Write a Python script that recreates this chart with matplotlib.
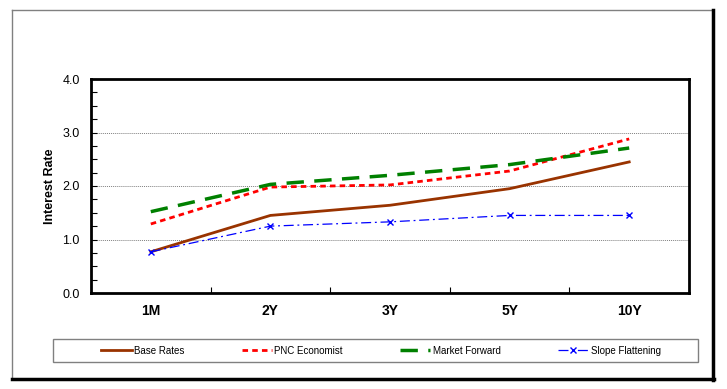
import numpy as np
import matplotlib.pyplot as plt
from matplotlib.lines import Line2D
from matplotlib.patches import Rectangle
from matplotlib.ticker import FixedLocator, MultipleLocator

plt.rcParams['font.family'] = ['Liberation Sans', 'DejaVu Sans']

# data
terms = ['1M', '2Y', '3Y', '5Y', '10Y']
base_rates = [0.77, 1.45, 1.64, 1.95, 2.45]
pnc_economist = [1.29, 1.98, 2.02, 2.28, 2.88]
market_forward = [1.52, 2.03, 2.20, 2.40, 2.71]
slope_flattening = [0.77, 1.25, 1.33, 1.45, 1.45]

fig = plt.figure(figsize=(7.27, 3.89), dpi=100)
ax = fig.add_axes([91/727, 1-293/389, 598/727, 214/389])
x = np.arange(len(terms))

ax.plot(x, base_rates, color='#993300', lw=2, label='Base Rates')
ax.plot(x, pnc_economist, color='#FF0000', lw=2, ls=(0, (2, 1.5)), label='PNC Economist')
ax.plot(x, market_forward, color='#008000', lw=2.5, ls=(0, (5, 3)), label='Market Forward')
ax.plot(x, slope_flattening, color='#0000FF', lw=0.9, ls=(0, (8, 3, 1.5, 3)),
        marker='x', ms=5, mew=1, label='Slope Flattening')

ax.set_xlim(-0.5, len(terms) - 0.5)
ax.set_ylim(0, 4)
ax.set_xticks(x)
ax.set_xticklabels(terms, fontweight='bold', fontsize=10)
ax.xaxis.set_minor_locator(FixedLocator(x[:-1] + 0.5))
ax.tick_params(axis='x', which='major', length=0, pad=8)
ax.tick_params(axis='x', which='minor', direction='in', length=4, width=0.8)

ax.yaxis.set_major_locator(MultipleLocator(1))
ax.yaxis.set_minor_locator(MultipleLocator(0.25))
ax.set_yticklabels([f'{v:.1f}' for v in ax.get_yticks()])
ax.tick_params(axis='y', which='both', direction='in', length=4, width=0.8, labelsize=9, pad=8)
ax.set_ylabel('Interest Rate', fontweight='bold', fontsize=9, labelpad=5)

for v in [1, 2, 3]:
    ax.axhline(v, color='#808080', lw=0.7, ls=(0, (1, 1)), zorder=0)
for s in ax.spines.values():
    s.set_linewidth(2)

# legend box drawn separately, entries spaced like the original
fig.add_artist(Rectangle((53/727, 1-362/389), 645/727, 23/389, transform=fig.transFigure,
                         fill=False, edgecolor='#808080', lw=1))
fig.legend(loc='center', bbox_to_anchor=(381/727, 1-350.5/389), ncol=4, fontsize=7,
           frameon=False, handlelength=3.1, handletextpad=0.25, columnspacing=5.9,
           borderaxespad=0, borderpad=0)

# outer frame with shadow on right and bottom
fig.add_artist(Line2D([12/727, 12/727], [1-379/389, 1-10/389], color='#808080', lw=1))
fig.add_artist(Line2D([12/727, 713/727], [1-10/389, 1-10/389], color='#808080', lw=1))
fig.add_artist(Line2D([713/727, 713/727], [1-380/389, 1-10/389], color='black', lw=2.5))
fig.add_artist(Line2D([12/727, 714/727], [1-379/389, 1-379/389], color='black', lw=2.5))

fig.savefig('out.png', dpi=100)
